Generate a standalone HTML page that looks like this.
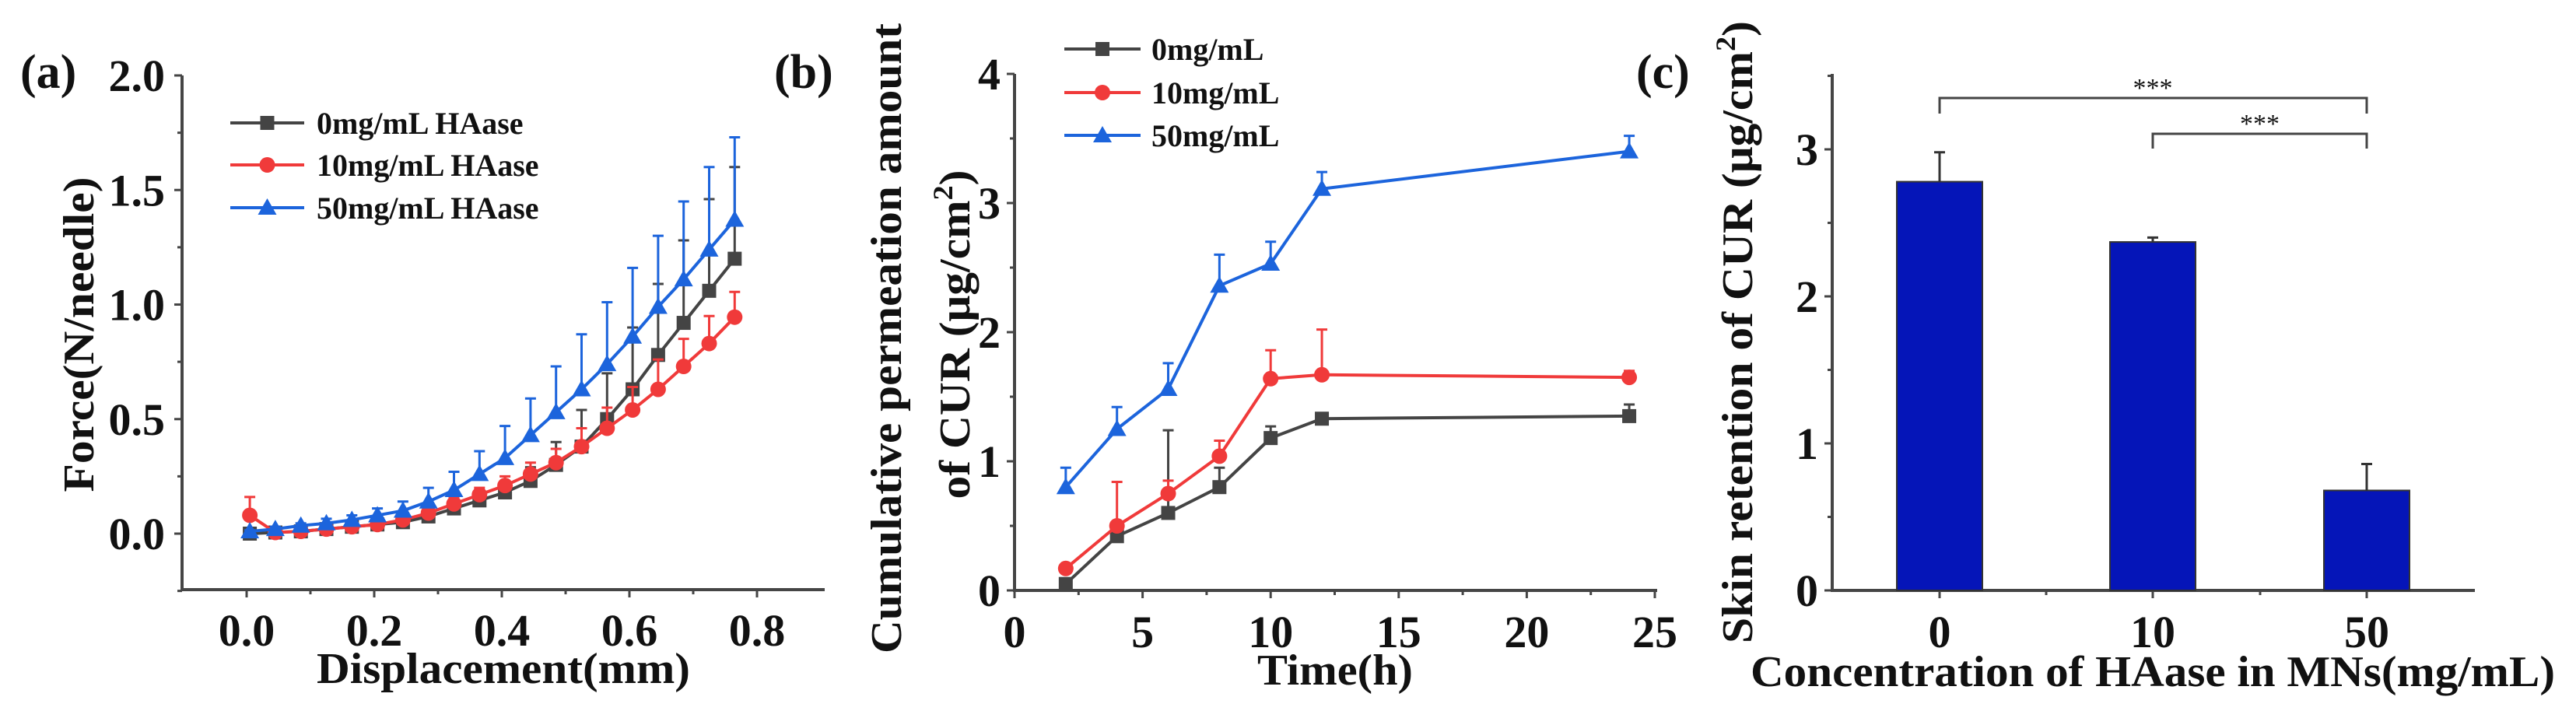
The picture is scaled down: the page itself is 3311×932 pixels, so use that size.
<!DOCTYPE html>
<html><head><meta charset="utf-8"><style>
html,body{margin:0;padding:0;background:#fff;}
svg{display:block;}
text{font-family:"Liberation Serif",serif;font-weight:bold;fill:#111;}
</style></head><body>
<svg id="fig" width="3311" height="932" viewBox="0 0 3311 932" xmlns="http://www.w3.org/2000/svg">
<g id="pa"></g>
<g id="pb"></g>
<g id="pc"></g>
</svg>
<script>
// ---------- Panel (a) data ----------
const aX = [0.005,0.045,0.085,0.125,0.165,0.205,0.245,0.285,0.325,0.365,0.405,0.445,0.485,0.525,0.565,0.605,0.645,0.685,0.725,0.765];
const a0 = [0.0,0.005,0.01,0.02,0.03,0.04,0.05,0.075,0.11,0.145,0.18,0.23,0.30,0.38,0.50,0.63,0.78,0.92,1.06,1.20];
const a0Err = [0,0,0,0,0.005,0.01,0.01,0.02,0.02,0.03,0.04,0.06,0.10,0.16,0.2,0.27,0.31,0.36,0.40,0.40];
const a10 = [0.08,0.005,0.01,0.02,0.03,0.04,0.06,0.09,0.13,0.17,0.21,0.26,0.31,0.38,0.46,0.54,0.63,0.73,0.83,0.945];
const a10Err = [0.08,0,0,0.005,0.01,0.01,0.01,0.02,0.03,0.03,0.04,0.05,0.06,0.08,0.09,0.1,0.13,0.12,0.12,0.11];
const a50 = [0.01,0.02,0.035,0.045,0.06,0.08,0.10,0.14,0.19,0.26,0.33,0.43,0.53,0.63,0.74,0.86,0.99,1.11,1.24,1.37];
const a50Err = [0.005,0.01,0.01,0.02,0.02,0.03,0.04,0.06,0.08,0.10,0.14,0.16,0.20,0.24,0.27,0.30,0.31,0.34,0.36,0.36];
const aXTicks = ["0.0","0.2","0.4","0.6","0.8"];
const aYTicks = ["0.0","0.5","1.0","1.5","2.0"];
const aLegend = ["0mg/mL HAase","10mg/mL HAase","50mg/mL HAase"];
// ---------- Panel (b) data ----------
const bX = [2,4,6,8,10,12,24];
const b0 = [0.05,0.42,0.60,0.80,1.18,1.33,1.35];
const b0Err = [0.02,0.04,0.64,0.15,0.09,0.03,0.09];
const b10 = [0.17,0.50,0.75,1.04,1.64,1.67,1.65];
const b10Err = [0.02,0.34,0.10,0.12,0.22,0.35,0.05];
const b50 = [0.80,1.25,1.56,2.36,2.53,3.11,3.40];
const b50Err = [0.15,0.17,0.20,0.24,0.17,0.13,0.12];
const bXTicks = ["0","5","10","15","20","25"];
const bYTicks = ["0","1","2","3","4"];
const bLegend = ["0mg/mL","10mg/mL","50mg/mL"];
// ---------- Panel (c) data ----------
const cCats = ["0","10","50"];
const cVals = [2.78,2.37,0.68];
const cErr = [0.20,0.03,0.18];
const cYTicks = ["0","1","2","3"];

const NS="http://www.w3.org/2000/svg";
function el(parent,tag,attrs,txt){const e=document.createElementNS(NS,tag);for(const k in attrs)e.setAttribute(k,attrs[k]);if(txt!==undefined)e.textContent=txt;parent.appendChild(e);return e;}
const AX="#454545";
const colors=["#444444","#f03a3a","#1c64dc"];

function marker(g,type,x,y,c){
  let m;
  if(type==0){m=el(g,'rect',{x:x-9,y:y-9,width:18,height:18,fill:c});}
  else if(type==1){m=el(g,'circle',{cx:x,cy:y,r:10,fill:c});}
  else {m=el(g,'polygon',{points:`${x},${y-12} ${x+12},${y+9} ${x-12},${y+9}`,fill:c});}
  
  
}
function series(g,xs,ys,errs,sx,sy,type,c,name){
  const s=el(g,'g',{});
  
  
  for(let i=0;i<xs.length;i++){
    if(errs[i]>0){
      const x=sx(xs[i]),y0=sy(ys[i]),y1=sy(ys[i]+errs[i]);
      const eb=el(s,'path',{d:`M${x},${y0}V${y1}M${x-7},${y1}H${x+7}`,stroke:c,'stroke-width':3,fill:'none'});
      
      
    }
  }
  const d=xs.map((v,i)=>(i?'L':'M')+sx(v)+','+sy(ys[i])).join('');
  const ln=el(s,'path',{d:d,stroke:c,'stroke-width':4,fill:'none'});
  
  
  for(let i=0;i<xs.length;i++)marker(s,type,sx(xs[i]),sy(ys[i]),c);
}
function legend(g,x0,x1,tx,ys,labels,fs){
  labels.forEach((l,i)=>{
    const lg=el(g,'g',{});
    
    
    el(lg,'line',{x1:x0,x2:x1,y1:ys[i],y2:ys[i],stroke:colors[i],'stroke-width':4});
    marker(lg,i,(x0+x1)/2,ys[i],colors[i]);
    el(lg,'text',{x:tx,y:ys[i]+14,'font-size':fs},l);
  });
}
const FS=58;

// ===== Panel A =====
(function(){
  const g=document.getElementById('pa');
  const L=234,R=1060,T=97,B=758;
  const sx=v=>317+v*820, sy=v=>686-v*294.5;
  el(g,'path',{d:`M${L},${T}V${B}H${R}`,stroke:AX,'stroke-width':4,fill:'none'});
  aXTicks.forEach((t,i)=>{const v=i*0.2;el(g,'line',{x1:sx(v),x2:sx(v),y1:B,y2:B+10,stroke:AX,'stroke-width':3});
    const m=sx(v+0.1); if(v+0.1<0.9) el(g,'line',{x1:m,x2:m,y1:B,y2:B+6,stroke:AX,'stroke-width':3});
    const tt=el(g,'text',{x:sx(v),y:830,'font-size':FS,'text-anchor':'middle'},t);
    });
  aYTicks.forEach((t,i)=>{const v=i*0.5;el(g,'line',{x1:L,x2:L-10,y1:sy(v),y2:sy(v),stroke:AX,'stroke-width':3});
    el(g,'line',{x1:L,x2:L-6,y1:sy(v-0.25),y2:sy(v-0.25),stroke:AX,'stroke-width':3});
    const tt=el(g,'text',{x:212,y:sy(v)+20,'font-size':FS,'text-anchor':'end'},t);
    });
  const xt=el(g,'text',{x:647,y:878,'font-size':56,'text-anchor':'middle',textLength:480,lengthAdjust:'spacingAndGlyphs'},'Displacement(mm)');
  
  const yt=el(g,'text',{x:0,y:0,'font-size':56,'text-anchor':'middle',transform:'translate(120,430) rotate(-90)',textLength:405,lengthAdjust:'spacingAndGlyphs'},'Force(N/needle)');
  
  const pl=el(g,'text',{x:26,y:113,'font-size':62},'(a)');
  
  series(g,aX,a0,a0Err,sx,sy,0,colors[0],'series-0mg');
  series(g,aX,a10,a10Err,sx,sy,1,colors[1],'series-10mg');
  series(g,aX,a50,a50Err,sx,sy,2,colors[2],'series-50mg');
  legend(g,296,391,407,[158,212,267],aLegend,40);
})();

// ===== Panel B =====
(function(){
  const g=document.getElementById('pb');
  const L=1304,R=2130,T=95,B=759;
  const sx=v=>1304+v*32.92, sy=v=>759-v*166;
  el(g,'path',{d:`M${L},${T}V${B}H${R}`,stroke:AX,'stroke-width':4,fill:'none'});
  bXTicks.forEach((t,i)=>{const v=i*5;el(g,'line',{x1:sx(v),x2:sx(v),y1:B,y2:B+10,stroke:AX,'stroke-width':3});
    if(v<25) el(g,'line',{x1:sx(v+2.5),x2:sx(v+2.5),y1:B,y2:B+6,stroke:AX,'stroke-width':3});
    const tt=el(g,'text',{x:sx(v),y:832,'font-size':FS,'text-anchor':'middle'},t);
    });
  bYTicks.forEach((t,i)=>{const v=i;el(g,'line',{x1:L,x2:L-10,y1:sy(v),y2:sy(v),stroke:AX,'stroke-width':3});
    if(v<4) el(g,'line',{x1:L,x2:L-6,y1:sy(v+0.5),y2:sy(v+0.5),stroke:AX,'stroke-width':3});
    const tt=el(g,'text',{x:1286,y:sy(v)+20,'font-size':FS,'text-anchor':'end'},t);
    });
  const xt=el(g,'text',{x:1716,y:880,'font-size':56,'text-anchor':'middle',textLength:200,lengthAdjust:'spacingAndGlyphs'},'Time(h)');
  
  const y1=el(g,'text',{x:0,y:0,'font-size':56,'text-anchor':'middle',transform:'translate(1158,435) rotate(-90)',textLength:810,lengthAdjust:'spacingAndGlyphs'},'Cumulative permeation amount');
  
  const y2=el(g,'text',{x:0,y:0,'font-size':56,'text-anchor':'middle',transform:'translate(1246,430) rotate(-90)'});
  
  y2.setAttribute('textLength','423');y2.setAttribute('lengthAdjust','spacingAndGlyphs');
  y2.appendChild(document.createTextNode('of CUR (μg/cm'));
  const sup=el(y2,'tspan',{dy:-22,'font-size':36},'2');
  el(y2,'tspan',{dy:22},')');
  const pl=el(g,'text',{x:995,y:113,'font-size':62},'(b)');
  
  series(g,bX,b0,b0Err,sx,sy,0,colors[0],'series-0mg');
  series(g,bX,b10,b10Err,sx,sy,1,colors[1],'series-10mg');
  series(g,bX,b50,b50Err,sx,sy,2,colors[2],'series-50mg');
  legend(g,1368,1466,1480,[63,119,174],bLegend,40);
})();

// ===== Panel C =====
(function(){
  const g=document.getElementById('pc');
  const L=2355,R=3181,T=95,B=759;
  const cx=[2493,2767,3042];
  const sy=v=>759-v*189;
  el(g,'path',{d:`M${L},${T}V${B}H${R}`,stroke:AX,'stroke-width':4,fill:'none'});
  cCats.forEach((c,i)=>{
    el(g,'line',{x1:cx[i],x2:cx[i],y1:B,y2:B+10,stroke:AX,'stroke-width':3});
    const tt=el(g,'text',{x:cx[i],y:832,'font-size':FS,'text-anchor':'middle'},c);
    
    const v=cVals[i];
    const eb=el(g,'path',{d:`M${cx[i]},${sy(v)}V${sy(v+cErr[i])}M${cx[i]-7},${sy(v+cErr[i])}H${cx[i]+7}`,stroke:'#333','stroke-width':3,fill:'none'});
    
    const b=el(g,'rect',{x:cx[i]-55,y:sy(v),width:110,height:sy(0)-sy(v),fill:'#0515b8',stroke:'#333','stroke-width':2});
    
  });
  [2630,2905].forEach(x=>el(g,'line',{x1:x,x2:x,y1:B,y2:B+6,stroke:AX,'stroke-width':3}));
  cYTicks.forEach((t,i)=>{const v=i;el(g,'line',{x1:L,x2:L-10,y1:sy(v),y2:sy(v),stroke:AX,'stroke-width':3});
    el(g,'line',{x1:L,x2:L-6,y1:sy(v+0.5),y2:sy(v+0.5),stroke:AX,'stroke-width':3});
    const tt=el(g,'text',{x:2337,y:sy(v)+20,'font-size':FS,'text-anchor':'end'},t);
    });
  const br1=el(g,'path',{d:`M${cx[0]},146V126H${cx[2]}V146`,stroke:'#444','stroke-width':3,fill:'none'});
  
  const br2=el(g,'path',{d:`M${cx[1]},191V172H${cx[2]}V191`,stroke:'#444','stroke-width':3,fill:'none'});
  
  const s1=el(g,'text',{x:cx[1],y:124,'font-size':34,'text-anchor':'middle',style:'font-weight:normal',fill:'#444'},'***');
  
  const s2=el(g,'text',{x:(cx[1]+cx[2])/2,y:170,'font-size':34,'text-anchor':'middle',style:'font-weight:normal',fill:'#444'},'***');
  
  const xt=el(g,'text',{x:2767,y:882,'font-size':56,'text-anchor':'middle',textLength:1034,lengthAdjust:'spacingAndGlyphs'},'Concentration of HAase in MNs(mg/mL)');
  
  const yt=el(g,'text',{x:0,y:0,'font-size':56,'text-anchor':'middle',transform:'translate(2252,427) rotate(-90)'});
  
  yt.setAttribute('textLength','800');yt.setAttribute('lengthAdjust','spacingAndGlyphs');
  yt.appendChild(document.createTextNode('Skin retention of CUR (μg/cm'));
  el(yt,'tspan',{dy:-22,'font-size':36},'2');
  el(yt,'tspan',{dy:22},')');
  const pl=el(g,'text',{x:2103,y:113,'font-size':62},'(c)');
  
})();
</script>
</body></html>
